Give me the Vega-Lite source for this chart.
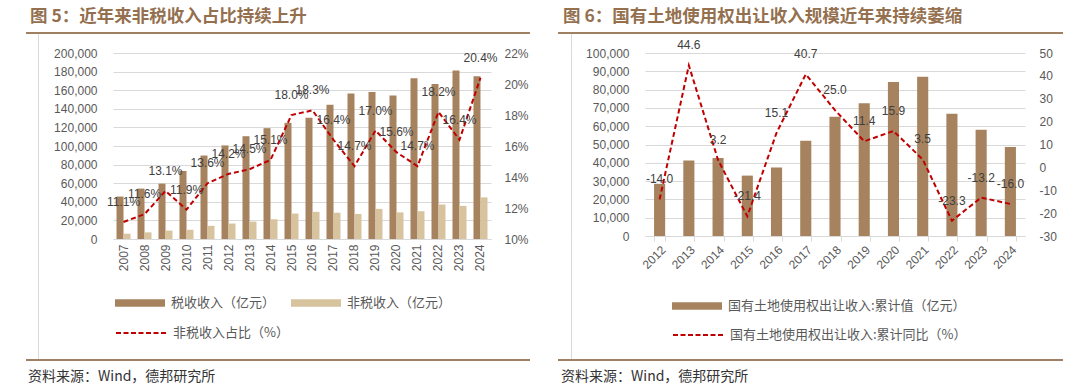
{
  "$schema": "https://vega.github.io/schema/vega-lite/v6.json",
  "padding": {"left": 26, "top": 6, "right": 5, "bottom": 5},
  "columns": 11,
  "spacing": 0,
  "bounds": "flush",
  "resolve": {"scale": {"color": "independent", "stroke": "independent"}, "legend": {"color": "independent", "stroke": "independent"}},
  "config": {
    "view": {"stroke": null},
    "font": "Liberation Sans",
    "locale": {"number": {"decimal": ".", "thousands": ",", "grouping": [3], "currency": ["", ""], "minus": "-"}},
    "axis": {"labelFont": "Liberation Sans", "labelFontSize": 12, "labelColor": "#595959", "domain": false, "ticks": false},
    "legend": {"labelFont": "Noto Sans CJK SC", "labelFontSize": 13, "labelColor": "#595959"},
    "title": {"font": "Noto Sans CJK SC", "fontSize": 17.5, "fontWeight": "bold", "color": "#94704F", "anchor": "start", "frame": "group"}
  },
  "concat": [
    {"width": 11, "height": 0.01, "data": {"values": []}, "mark": "point", "view": {"stroke": "#A08062", "strokeWidth": 2}, "title": {"text": "图 5：近年来非税收入占比持续上升", "dx": 3, "offset": 8}},
    {"width": 0.01, "height": 0.01, "data": {"values": []}, "mark": "point", "view": {"stroke": "#A08062", "strokeWidth": 2}},
    {"width": 74, "height": 0.01, "data": {"values": []}, "mark": "point", "view": {"stroke": "#A08062", "strokeWidth": 2}},
    {"width": 378, "height": 0.01, "data": {"values": []}, "mark": "point", "view": {"stroke": "#A08062", "strokeWidth": 2}},
    {"width": 38, "height": 0.01, "data": {"values": []}, "mark": "point", "view": {"stroke": "#A08062", "strokeWidth": 2}},
    {"width": 30, "height": 0.01, "data": {"values": []}, "mark": "point"},
    {"width": 12, "height": 0.01, "data": {"values": []}, "mark": "point", "view": {"stroke": "#A08062", "strokeWidth": 2}, "title": {"text": "图 6：国有土地使用权出让收入规模近年来持续萎缩", "dx": 4, "offset": 8}},
    {"width": 0.01, "height": 0.01, "data": {"values": []}, "mark": "point", "view": {"stroke": "#A08062", "strokeWidth": 2}},
    {"width": 73, "height": 0.01, "data": {"values": []}, "mark": "point", "view": {"stroke": "#A08062", "strokeWidth": 2}},
    {"width": 380, "height": 0.01, "data": {"values": []}, "mark": "point", "view": {"stroke": "#A08062", "strokeWidth": 2}},
    {"width": 37, "height": 0.01, "data": {"values": []}, "mark": "point", "view": {"stroke": "#A08062", "strokeWidth": 2}},

    {"width": 0.01, "height": 0.01, "data": {"values": []}, "mark": "point"},
    {"width": 0.01, "height": 19, "data": {"values": []}, "mark": "point", "view": {"stroke": "#D9D9D9", "strokeWidth": 1}},
    {"width": 0.01, "height": 0.01, "data": {"values": []}, "mark": "point"},
    {"width": 0.01, "height": 0.01, "data": {"values": []}, "mark": "point"},
    {"width": 0.01, "height": 0.01, "data": {"values": []}, "mark": "point"},
    {"width": 0.01, "height": 0.01, "data": {"values": []}, "mark": "point"},
    {"width": 0.01, "height": 0.01, "data": {"values": []}, "mark": "point"},
    {"width": 0.01, "height": 19, "data": {"values": []}, "mark": "point", "view": {"stroke": "#D9D9D9", "strokeWidth": 1}},
    {"width": 0.01, "height": 0.01, "data": {"values": []}, "mark": "point"},
    {"width": 0.01, "height": 0.01, "data": {"values": []}, "mark": "point"},
    {"width": 0.01, "height": 0.01, "data": {"values": []}, "mark": "point"},

    {"width": 0.01, "height": 0.01, "data": {"values": []}, "mark": "point"},
    {"width": 0.01, "height": 186, "data": {"values": []}, "mark": "point", "view": {"stroke": "#D9D9D9", "strokeWidth": 1}},
    {"width": 0.01, "height": 0.01, "data": {"values": []}, "mark": "point"},
    {
      "width": 378, "height": 186,
      "data": {"values": [
        {"year": "2007", "tax": 45622, "nontax": 5700, "ratio": 0.111},
        {"year": "2008", "tax": 54224, "nontax": 7106, "ratio": 0.116},
        {"year": "2009", "tax": 59522, "nontax": 8997, "ratio": 0.131},
        {"year": "2010", "tax": 73211, "nontax": 9890, "ratio": 0.119},
        {"year": "2011", "tax": 89738, "nontax": 14136, "ratio": 0.136},
        {"year": "2012", "tax": 100614, "nontax": 16639, "ratio": 0.142},
        {"year": "2013", "tax": 110531, "nontax": 18679, "ratio": 0.145},
        {"year": "2014", "tax": 119175, "nontax": 21195, "ratio": 0.151},
        {"year": "2015", "tax": 124922, "nontax": 27347, "ratio": 0.180},
        {"year": "2016", "tax": 130361, "nontax": 29198, "ratio": 0.183},
        {"year": "2017", "tax": 144370, "nontax": 28222, "ratio": 0.164},
        {"year": "2018", "tax": 156403, "nontax": 26957, "ratio": 0.147},
        {"year": "2019", "tax": 157992, "nontax": 32390, "ratio": 0.170},
        {"year": "2020", "tax": 154312, "nontax": 28584, "ratio": 0.156},
        {"year": "2021", "tax": 172736, "nontax": 29846, "ratio": 0.147},
        {"year": "2022", "tax": 166614, "nontax": 37089, "ratio": 0.182},
        {"year": "2023", "tax": 181129, "nontax": 35575, "ratio": 0.164},
        {"year": "2024", "tax": 174972, "nontax": 44730, "ratio": 0.204}
      ]},
      "encoding": {
        "x": {"field": "year", "type": "ordinal", "scale": {"paddingInner": 0.333, "paddingOuter": 0.167},
          "axis": {"title": null, "labelAngle": -90, "labelPadding": 5, "domain": true, "domainColor": "#D9D9D9", "ticks": false}}
      },
      "layer": [
        {
          "transform": [{"fold": ["tax", "nontax"], "as": ["key", "value"]}],
          "mark": {"type": "bar"},
          "encoding": {
            "xOffset": {"field": "key", "type": "nominal", "sort": ["tax", "nontax"]},
            "y": {"field": "value", "type": "quantitative", "scale": {"domain": [0, 200000]},
              "axis": {"title": null, "values": [0, 20000, 40000, 60000, 80000, 100000, 120000, 140000, 160000, 180000, 200000], "format": ",.0f", "grid": true, "gridColor": "#D9D9D9", "labelPadding": 16}},
            "color": {"field": "key", "type": "nominal", "scale": {"domain": ["tax", "nontax"], "range": ["#A6835E", "#D7C39D"]},
              "legend": {"title": null, "orient": "none", "legendX": 2, "legendY": 225, "direction": "horizontal", "symbolType": "M-1,-0.15H1V0.15H-1Z", "symbolSize": 2500, "symbolStrokeWidth": 0, "labelOffset": 6, "columnPadding": 15,
                "labelExpr": "datum.value == 'tax' ? '税收收入（亿元）' : '非税收入（亿元）'"}}
          }
        },
        {
          "encoding": {
            "y": {"field": "ratio", "type": "quantitative", "scale": {"domain": [0.10, 0.22]},
              "axis": {"title": null, "orient": "right", "values": [0.10, 0.12, 0.14, 0.16, 0.18, 0.20, 0.22], "format": ".0%", "grid": false, "labelPadding": 13}}
          },
          "layer": [
            {
              "mark": {"type": "line", "strokeDash": [5, 3], "strokeWidth": 2},
              "encoding": {
                "stroke": {"datum": "非税收入占比（%）", "type": "nominal", "scale": {"range": ["#C00000"]},
                  "legend": {"title": null, "orient": "none", "legendX": 2, "legendY": 254, "symbolType": "M-1,0H1", "symbolSize": 2500, "symbolStrokeWidth": 2, "symbolDash": [5, 2.5], "labelOffset": 6}}
              }
            },
            {
              "mark": {"type": "text", "dy": -20, "fontSize": 12, "color": "#404040", "font": "Liberation Sans"},
              "encoding": {"text": {"field": "ratio", "type": "quantitative", "format": ".1%"}}
            }
          ]
        }
      ],
      "resolve": {"scale": {"y": "independent"}}
    },
    {"width": 0.01, "height": 0.01, "data": {"values": []}, "mark": "point"},
    {"width": 0.01, "height": 0.01, "data": {"values": []}, "mark": "point"},
    {"width": 0.01, "height": 0.01, "data": {"values": []}, "mark": "point"},
    {"width": 0.01, "height": 186, "data": {"values": []}, "mark": "point", "view": {"stroke": "#D9D9D9", "strokeWidth": 1}},
    {"width": 0.01, "height": 0.01, "data": {"values": []}, "mark": "point"},
    {
      "width": 380, "height": 183,
      "data": {"values": [
        {"year": "2012", "land": 28517, "yoy": -14.0},
        {"year": "2013", "land": 41250, "yoy": 44.6},
        {"year": "2014", "land": 42606, "yoy": 3.2},
        {"year": "2015", "land": 33000, "yoy": -21.4},
        {"year": "2016", "land": 37457, "yoy": 15.1},
        {"year": "2017", "land": 52059, "yoy": 40.7},
        {"year": "2018", "land": 65096, "yoy": 25.0},
        {"year": "2019", "land": 72517, "yoy": 11.4},
        {"year": "2020", "land": 84142, "yoy": 15.9},
        {"year": "2021", "land": 87051, "yoy": 3.5},
        {"year": "2022", "land": 66854, "yoy": -23.3},
        {"year": "2023", "land": 57996, "yoy": -13.2},
        {"year": "2024", "land": 48699, "yoy": -16.0}
      ]},
      "encoding": {
        "x": {"field": "year", "type": "ordinal", "scale": {"paddingInner": 0.62, "paddingOuter": 0.31},
          "axis": {"title": null, "labelAngle": -45, "labelPadding": 3, "domain": true, "domainColor": "#D9D9D9", "ticks": true, "tickColor": "#D9D9D9", "tickBand": "extent", "tickSize": 5}}
      },
      "layer": [
        {
          "mark": {"type": "bar"},
          "encoding": {
            "y": {"field": "land", "type": "quantitative", "scale": {"domain": [0, 100000]},
              "axis": {"title": null, "values": [0, 10000, 20000, 30000, 40000, 50000, 60000, 70000, 80000, 90000, 100000], "format": ",.0f", "grid": true, "gridColor": "#D9D9D9", "labelPadding": 16}},
            "color": {"datum": "国有土地使用权出让收入:累计值（亿元）", "type": "nominal", "scale": {"range": ["#A6835E"]},
              "legend": {"title": null, "orient": "none", "legendX": 27, "legendY": 228, "symbolType": "M-1,-0.15H1V0.15H-1Z", "symbolSize": 2500, "symbolStrokeWidth": 0, "labelOffset": 6, "labelLimit": 400}}
          }
        },
        {
          "encoding": {
            "y": {"field": "yoy", "type": "quantitative", "scale": {"domain": [-30, 50]},
              "axis": {"title": null, "orient": "right", "values": [-30, -20, -10, 0, 10, 20, 30, 40, 50], "format": "d", "grid": false, "labelPadding": 14}}
          },
          "layer": [
            {
              "mark": {"type": "line", "strokeDash": [5, 3], "strokeWidth": 2},
              "encoding": {
                "stroke": {"datum": "国有土地使用权出让收入:累计同比（%）", "type": "nominal", "scale": {"range": ["#C00000"]},
                  "legend": {"title": null, "orient": "none", "legendX": 27, "legendY": 256, "symbolType": "M-1,0H1", "symbolSize": 2500, "symbolStrokeWidth": 2, "symbolDash": [5, 2.5], "labelOffset": 6, "labelLimit": 400}}
              }
            },
            {
              "mark": {"type": "text", "dy": -20, "fontSize": 12, "color": "#404040", "font": "Liberation Sans"},
              "encoding": {"text": {"field": "yoy", "type": "quantitative", "format": ".1f"}}
            }
          ]
        }
      ],
      "resolve": {"scale": {"y": "independent"}}
    },
    {"width": 0.01, "height": 0.01, "data": {"values": []}, "mark": "point"},

    {"width": 0.01, "height": 0.01, "data": {"values": []}, "mark": "point"},
    {"width": 0.01, "height": 121, "data": {"values": []}, "mark": "point", "view": {"stroke": "#D9D9D9", "strokeWidth": 1}},
    {"width": 0.01, "height": 0.01, "data": {"values": []}, "mark": "point"},
    {"width": 0.01, "height": 0.01, "data": {"values": []}, "mark": "point"},
    {"width": 0.01, "height": 0.01, "data": {"values": []}, "mark": "point"},
    {"width": 0.01, "height": 0.01, "data": {"values": []}, "mark": "point"},
    {"width": 0.01, "height": 0.01, "data": {"values": []}, "mark": "point"},
    {"width": 0.01, "height": 121, "data": {"values": []}, "mark": "point", "view": {"stroke": "#D9D9D9", "strokeWidth": 1}},
    {"width": 0.01, "height": 0.01, "data": {"values": []}, "mark": "point"},
    {"width": 0.01, "height": 0.01, "data": {"values": []}, "mark": "point"},
    {"width": 0.01, "height": 0.01, "data": {"values": []}, "mark": "point"},

    {"width": 11, "height": 0.01, "data": {"values": []}, "mark": "point", "view": {"stroke": "#A08062", "strokeWidth": 2}, "title": {"text": "资料来源：Wind，德邦研究所", "orient": "bottom", "offset": 10, "fontSize": 14, "fontWeight": "normal", "color": "#333333", "dx": 1}},
    {"width": 0.01, "height": 0.01, "data": {"values": []}, "mark": "point", "view": {"stroke": "#A08062", "strokeWidth": 2}},
    {"width": 74, "height": 0.01, "data": {"values": []}, "mark": "point", "view": {"stroke": "#A08062", "strokeWidth": 2}},
    {"width": 378, "height": 0.01, "data": {"values": []}, "mark": "point", "view": {"stroke": "#A08062", "strokeWidth": 2}},
    {"width": 38, "height": 0.01, "data": {"values": []}, "mark": "point", "view": {"stroke": "#A08062", "strokeWidth": 2}},
    {"width": 30, "height": 0.01, "data": {"values": []}, "mark": "point"},
    {"width": 12, "height": 0.01, "data": {"values": []}, "mark": "point", "view": {"stroke": "#A08062", "strokeWidth": 2}, "title": {"text": "资料来源：Wind，德邦研究所", "orient": "bottom", "offset": 10, "fontSize": 14, "fontWeight": "normal", "color": "#333333", "dx": 2}},
    {"width": 0.01, "height": 0.01, "data": {"values": []}, "mark": "point", "view": {"stroke": "#A08062", "strokeWidth": 2}},
    {"width": 73, "height": 0.01, "data": {"values": []}, "mark": "point", "view": {"stroke": "#A08062", "strokeWidth": 2}},
    {"width": 380, "height": 0.01, "data": {"values": []}, "mark": "point", "view": {"stroke": "#A08062", "strokeWidth": 2}},
    {"width": 37, "height": 0.01, "data": {"values": []}, "mark": "point", "view": {"stroke": "#A08062", "strokeWidth": 2}}
  ]
}
